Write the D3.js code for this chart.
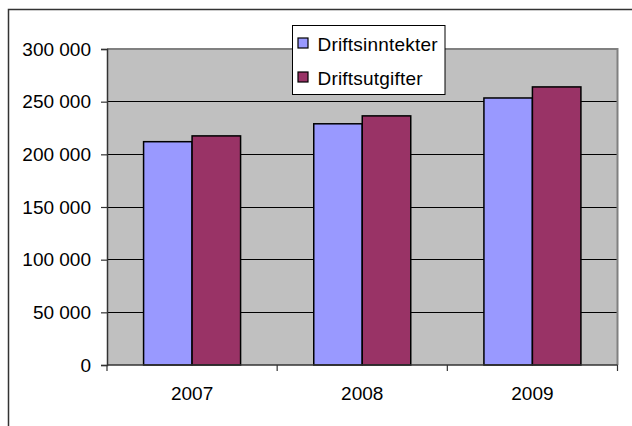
<!DOCTYPE html>
<html>
<head>
<meta charset="utf-8">
<script src="https://cdn.jsdelivr.net/npm/d3@7"></script>
<style>
  body { margin: 0; background: #fff; }
  svg { display: block; font-family: "Liberation Sans", Arial, sans-serif; }
</style>
</head>
<body>
<svg id="chart" width="632" height="426"></svg>
<script>
// Data
const years = ["2007", "2008", "2009"];
const seriesNames = ["Driftsinntekter", "Driftsutgifter"];
const driftsinntekter = [212000, 229000, 253500];
const driftsutgifter = [217500, 236500, 264000];
const yTicks = [0, 50000, 100000, 150000, 200000, 250000, 300000];
const colors = ["#9999FF", "#993366"];

const svg = d3.select("#chart");

// plot area box
const plot = { left: 107, right: 617.5, top: 49, bottom: 365 };

// outer chart border (runs off the right and bottom edges)
svg.append("rect")
  .attr("x", 8.5).attr("y", 9.5)
  .attr("width", 700).attr("height", 500)
  .attr("fill", "#fff")
  .attr("stroke", "#333").attr("stroke-width", 1.5);

const x = d3.scaleBand()
  .domain(years)
  .range([plot.left, plot.right])
  .paddingInner(0.43).paddingOuter(0.215);

const xInner = d3.scaleBand()
  .domain(seriesNames)
  .range([0, x.bandwidth()]);

const y = d3.scaleLinear()
  .domain([0, 300000])
  .range([plot.bottom, plot.top]);

// grey plot background
svg.append("rect")
  .attr("x", plot.left).attr("y", plot.top)
  .attr("width", plot.right - plot.left).attr("height", plot.bottom - plot.top)
  .attr("fill", "#C0C0C0");

// gridlines
svg.append("g")
  .selectAll("line")
  .data(yTicks.filter(d => d > 0 && d < 300000))
  .join("line")
  .attr("x1", plot.left).attr("x2", plot.right)
  .attr("y1", d => y(d)).attr("y2", d => y(d))
  .attr("stroke", "#000").attr("stroke-width", 1)
  .attr("shape-rendering", "crispEdges");

// plot border top/right (grey)
svg.append("path")
  .attr("d", `M${plot.left},${plot.top}H${plot.right}V${plot.bottom}`)
  .attr("fill", "none").attr("stroke", "#808080").attr("stroke-width", 2);

// bars
const rows = years.map((yr, i) => ({ year: yr, values: [driftsinntekter[i], driftsutgifter[i]] }));
svg.append("g")
  .selectAll("g")
  .data(rows)
  .join("g")
  .attr("transform", d => `translate(${x(d.year)},0)`)
  .selectAll("rect")
  .data(d => d.values.map((v, j) => ({ name: seriesNames[j], value: v, color: colors[j] })))
  .join("rect")
  .attr("x", d => xInner(d.name))
  .attr("width", xInner.bandwidth())
  .attr("y", d => y(d.value))
  .attr("height", d => y(0) - y(d.value))
  .attr("fill", d => d.color)
  .attr("stroke", "#000").attr("stroke-width", 1.5);

// y axis
const fmt = d => d3.format(",")(d).replace(/,/g, " ");
const yAxis = svg.append("g")
  .attr("transform", `translate(${plot.left},0)`)
  .call(d3.axisLeft(y).tickValues(yTicks).tickFormat(fmt).tickSize(6).tickPadding(10));
yAxis.select(".domain").attr("stroke", "#333").attr("stroke-width", 1.5);
yAxis.selectAll(".tick line").attr("stroke", "#333").attr("stroke-width", 1.2);
yAxis.selectAll("text")
  .attr("font-size", 19).attr("fill", "#000")
  .attr("font-family", "Liberation Sans, Arial, sans-serif");

// x axis
const xAxis = svg.append("g")
  .attr("transform", `translate(0,${plot.bottom})`)
  .call(d3.axisBottom(x).tickSize(0).tickPadding(0));
xAxis.select(".domain").remove();
xAxis.selectAll("text")
  .attr("font-size", 19).attr("fill", "#000")
  .attr("dy", 0).attr("y", 35)
  .attr("font-family", "Liberation Sans, Arial, sans-serif");

// x-axis line and category boundary ticks
svg.append("line")
  .attr("x1", plot.left).attr("x2", plot.right)
  .attr("y1", plot.bottom).attr("y2", plot.bottom)
  .attr("stroke", "#333").attr("stroke-width", 1.5);
const boundaries = years.map(yr => x(yr) - x.step() * x.paddingInner() / 2);
boundaries.push(plot.right);
svg.append("g")
  .selectAll("line")
  .data(boundaries)
  .join("line")
  .attr("x1", d => d).attr("x2", d => d)
  .attr("y1", plot.bottom).attr("y2", plot.bottom + 6)
  .attr("stroke", "#333").attr("stroke-width", 1.2);

// legend
const legend = svg.append("g").attr("transform", "translate(292.5,25.5)");
legend.append("rect")
  .attr("width", 152.5).attr("height", 69)
  .attr("fill", "#fff").attr("stroke", "#000").attr("stroke-width", 1);
const items = legend.selectAll("g.item")
  .data(seriesNames)
  .join("g")
  .attr("class", "item")
  .attr("transform", (d, i) => `translate(0,${18 + i * 34})`);
items.append("rect")
  .attr("x", 5.5).attr("y", -5.5)
  .attr("width", 10).attr("height", 10)
  .attr("fill", (d, i) => colors[i])
  .attr("stroke", "#000").attr("stroke-width", 1.2);
items.append("text")
  .attr("x", 25).attr("y", 7)
  .attr("font-size", 19).attr("letter-spacing", 0.2)
  .text(d => d);
</script>
</body>
</html>
